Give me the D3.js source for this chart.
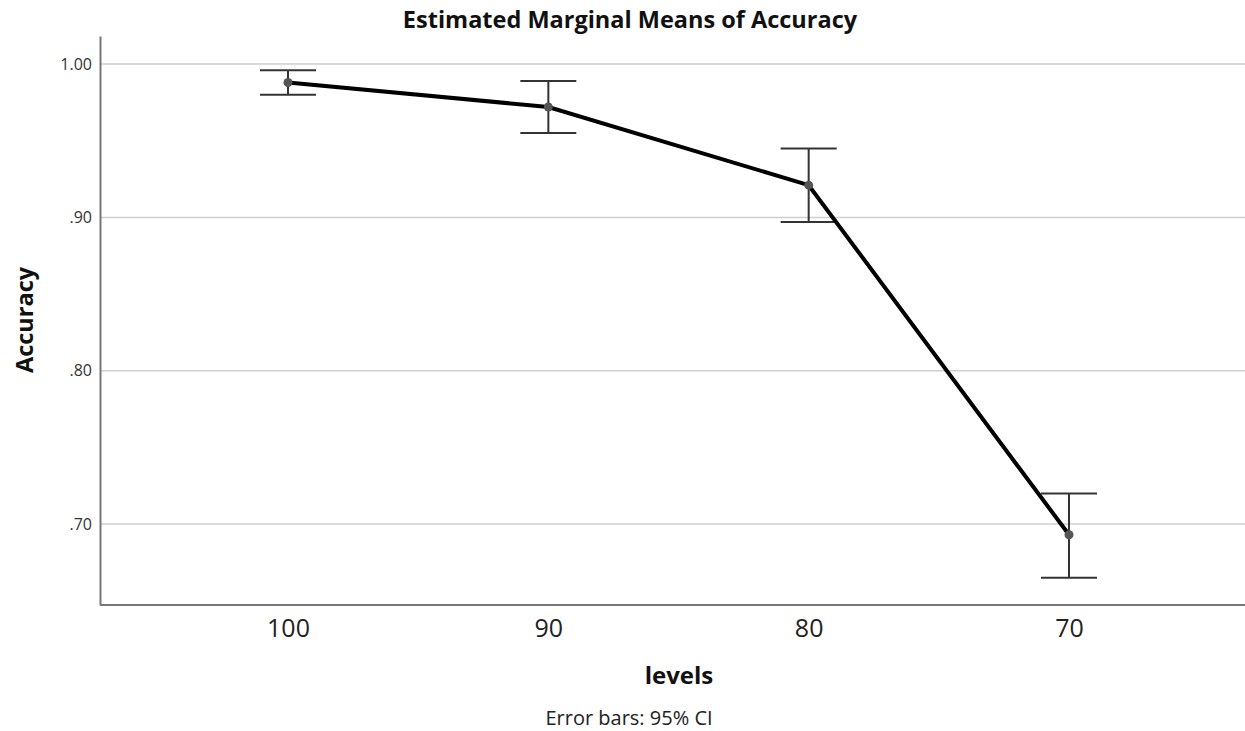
<!DOCTYPE html>
<html>
<head>
<meta charset="utf-8">
<script src="https://cdn.jsdelivr.net/npm/d3@7"></script>
<style>
  body { margin: 0; background: #fff; }
  text { font-family: "Open Sans", sans-serif; }
</style>
</head>
<body>
<div id="chart"></div>
<script>
// Estimated marginal means
const levels = ["100", "90", "80", "70"];
const means = [0.988, 0.972, 0.921, 0.693];
const ciLow = [0.980, 0.955, 0.897, 0.665];
const ciHigh = [0.996, 0.989, 0.945, 0.720];
const yTicks = [0.70, 0.80, 0.90, 1.00];

const width = 1245, height = 731;

const svg = d3.select("#chart")
    .append("svg")
    .attr("width", width)
    .attr("height", height);

const data = levels.map((l, i) => ({ level: l, mean: means[i], lo: ciLow[i], hi: ciHigh[i] }));

// x: categorical levels
const xScale = d3.scalePoint()
    .domain(levels)
    .range([288, 1069]);

// y: accuracy
const yScale = d3.scaleLinear()
    .domain([0.6472, 1.0183])
    .range([605, 36]);

// gridlines
svg.append("g")
    .selectAll("line")
    .data(yTicks)
    .enter()
    .append("line")
    .attr("x1", 101)
    .attr("x2", width)
    .attr("y1", d => yScale(d))
    .attr("y2", d => yScale(d))
    .attr("stroke", "#cfcfcf")
    .attr("stroke-width", 1.5);

// y axis
const yAxis = svg.append("g")
    .attr("transform", "translate(100,0)")
    .call(d3.axisLeft(yScale)
        .tickValues(yTicks)
        .tickSize(0)
        .tickPadding(8)
        .tickFormat(d => d3.format(".2f")(d).replace(/^0/, "")));
yAxis.select(".domain").attr("stroke", "#777").attr("stroke-width", 2);
yAxis.selectAll("text").attr("font-size", "16px").attr("fill", "#333");

// x axis
const xAxis = svg.append("g")
    .attr("transform", "translate(0,605)")
    .call(d3.axisBottom(xScale).tickSize(0).tickPadding(14));
xAxis.select(".domain").attr("d", `M100,0H${width}`).attr("stroke", "#777").attr("stroke-width", 2);
xAxis.selectAll("text").attr("font-size", "25px").attr("fill", "#222");

// error bars
const capHalf = 28;
const bars = svg.append("g").attr("stroke", "#333").attr("stroke-width", 2);
bars.selectAll(".stem")
    .data(data)
    .enter()
    .append("line")
    .attr("x1", d => xScale(d.level))
    .attr("x2", d => xScale(d.level))
    .attr("y1", d => yScale(d.hi))
    .attr("y2", d => yScale(d.lo));
bars.selectAll(".capHi")
    .data(data)
    .enter()
    .append("line")
    .attr("x1", d => xScale(d.level) - capHalf)
    .attr("x2", d => xScale(d.level) + capHalf)
    .attr("y1", d => yScale(d.hi))
    .attr("y2", d => yScale(d.hi));
bars.selectAll(".capLo")
    .data(data)
    .enter()
    .append("line")
    .attr("x1", d => xScale(d.level) - capHalf)
    .attr("x2", d => xScale(d.level) + capHalf)
    .attr("y1", d => yScale(d.lo))
    .attr("y2", d => yScale(d.lo));

// mean line
const line = d3.line()
    .x(d => xScale(d.level))
    .y(d => yScale(d.mean));
svg.append("path")
    .datum(data)
    .attr("d", line)
    .attr("fill", "none")
    .attr("stroke", "#000")
    .attr("stroke-width", 4);

// points
svg.selectAll("circle")
    .data(data)
    .enter()
    .append("circle")
    .attr("cx", d => xScale(d.level))
    .attr("cy", d => yScale(d.mean))
    .attr("r", 4.5)
    .attr("fill", "#555");

// titles
svg.append("text")
    .attr("x", 630)
    .attr("y", 28)
    .attr("text-anchor", "middle")
    .attr("font-size", "23.5px")
    .attr("font-weight", "bold")
    .attr("fill", "#111")
    .text("Estimated Marginal Means of Accuracy");

svg.append("text")
    .attr("x", 679)
    .attr("y", 684)
    .attr("text-anchor", "middle")
    .attr("font-size", "24px")
    .attr("font-weight", "bold")
    .attr("fill", "#111")
    .text("levels");

svg.append("text")
    .attr("transform", "translate(33,320) rotate(-90)")
    .attr("text-anchor", "middle")
    .attr("font-size", "23.5px")
    .attr("font-weight", "bold")
    .attr("fill", "#111")
    .text("Accuracy");

svg.append("text")
    .attr("x", 629)
    .attr("y", 725)
    .attr("text-anchor", "middle")
    .attr("font-size", "20px")
    .attr("fill", "#222")
    .text("Error bars: 95% CI");
</script>
</body>
</html>
